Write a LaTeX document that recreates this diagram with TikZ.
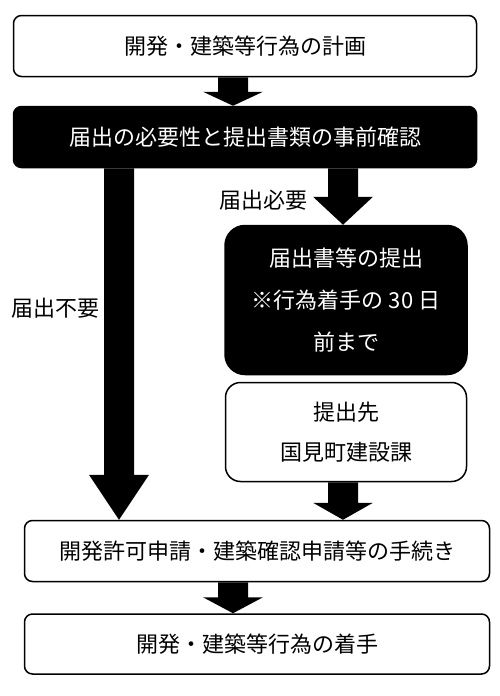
\documentclass[tikz,border=0pt]{standalone}
\usepackage{fontspec}
\setmainfont{Noto Sans CJK JP}
\usetikzlibrary{calc}

\begin{document}
\begin{tikzpicture}[x=1pt, y=-1pt,
    box/.style={draw, line width=1.5pt, rounded corners=8pt, minimum width=463pt, minimum height=61pt, inner sep=0pt, font=\fontsize{22}{22}\selectfont},
    blackbox/.style={box, fill=black, text=white},
    lbl/.style={inner sep=0pt, font=\fontsize{22}{22}\selectfont},
    blk/.style={to path={let \p1=(\tikztostart), \p2=(\tikztotarget) in
      (\x1-15pt,\y1) -- (\x1+15pt,\y1) -- (\x1+15pt,\y2+#1) -- (\x1+30pt,\y2+#1) --
      (\x1,\y2) -- (\x1-30pt,\y2+#1) -- (\x1-15pt,\y2+#1) -- cycle}}]
    \useasboundingbox (0,0) rectangle (500,696);
    \coordinate (colA) at (233,0);
    \coordinate (colL) at (119,0);
    \coordinate (colR) at (343,0);
    \node[box] (plan) at (245,46) {開発・建築等行為の計画};
    \node[blackbox] (check) at (245,137) {届出の必要性と提出書類の事前確認};
    \node[blackbox, rounded corners=20pt, minimum width=242pt, minimum height=149pt, align=center,
      font=\fontsize{22}{42}\selectfont] (submit) at (346,300) {届出書等の提出\\※行為着手の 30 日\\前まで};
    \node[box, rounded corners=15pt, minimum width=241pt, minimum height=99pt, align=center,
      font=\fontsize{22}{40}\selectfont] (office) at (346,432) {提出先\\国見町建設課};
    \node[box, minimum width=465pt] (apply) at (257,551) {開発許可申請・建築確認申請等の手続き};
    \node[box, minimum width=465pt, minimum height=60pt] (start) at (257,644) {開発・建築等行為の着手};
    \node[lbl, anchor=east] (need) at (308,200) {届出必要};
    \node[lbl] (noneed) at (55,308) {届出不要};
    % block arrows
    \fill[blk=14pt] (plan.south -| colA) to (check.north -| colA);
    \fill[blk=45pt] (check.south -| colL) to (apply.north -| colL);
    \fill[blk=28pt] (check.south -| colR) to (submit.north -| colR);
    \fill[blk=17pt] (office.south -| colR) to (apply.north -| colR);
    \fill[blk=16pt] (apply.south -| colA) to (start.north -| colA);
  \end{tikzpicture}
\end{document}
